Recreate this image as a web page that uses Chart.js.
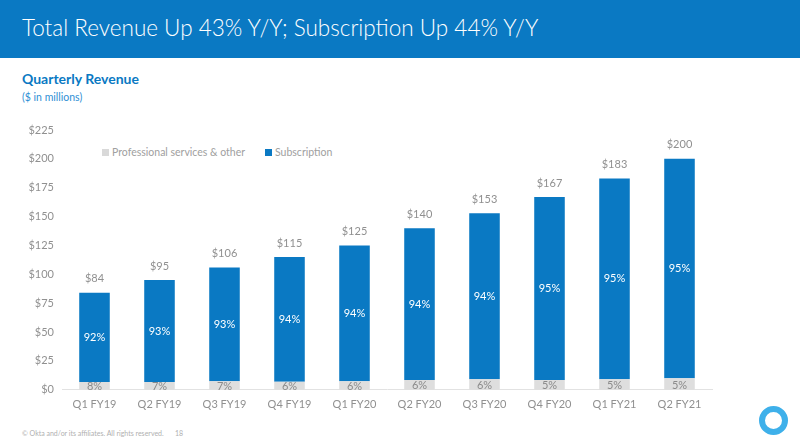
<!DOCTYPE html>
<html lang="en">
<head>
<meta charset="UTF-8">
<title>Quarterly Revenue</title>
<script src="https://cdn.jsdelivr.net/npm/chart.js"></script>
<style>
  body { margin: 0; width: 800px; height: 446px; overflow: hidden; background: #fff; font-family: Lato, "Open Sans", sans-serif; position: relative; }
  .header { position: absolute; left: 0; top: 0; width: 800px; height: 58px; background: #0a79c3; }
  .header h1 { margin: 0; position: absolute; left: 22px; top: 14px; color: #fff; font-weight: 300; font-size: 22.5px; letter-spacing: 0; }
  .sub1 { position: absolute; left: 22px; top: 70px; color: #0a79c3; font-weight: 700; font-size: 14px; }
  .sub2 { position: absolute; left: 22px; top: 91px; color: #2f8fd4; font-size: 10.5px; }
  .legend { position: absolute; top: 146px; font-size: 10.5px; color: #a0a0a0; }
  .legend i { display: inline-block; width: 7px; height: 7px; margin-right: 3px; vertical-align: 0px; }
  .chart { position: absolute; left: 0; top: 112px; width: 800px; height: 307px; }
  .footer { position: absolute; left: 22px; top: 429px; font-size: 7px; color: #b0b0b0; }
  .page { position: absolute; left: 175px; top: 429px; font-size: 7px; color: #b0b0b0; }
  .logo { position: absolute; left: 759px; top: 406px; width: 17px; height: 17px; border: 6px solid #3eb0ea; border-radius: 50%; }
</style>
</head>
<body>
<div class="header"><h1>Total Revenue Up 43% Y/Y; Subscription Up 44% Y/Y</h1></div>
<div class="sub1">Quarterly Revenue</div>
<div class="sub2">($ in millions)</div>
<div class="legend" style="left:102px"><i style="background:#d9d9d9"></i>Professional services &amp; other</div>
<div class="legend" style="left:265px"><i style="background:#0a79c3"></i>Subscription</div>
<div class="chart"><canvas id="graficoReceita"></canvas></div>
<div class="footer">© Okta and/or its affiliates. All rights reserved.</div>
<div class="page">18</div>
<div class="logo"></div>
<script>
const quarters = ['Q1 FY19', 'Q2 FY19', 'Q3 FY19', 'Q4 FY19', 'Q1 FY20', 'Q2 FY20', 'Q3 FY20', 'Q4 FY20', 'Q1 FY21', 'Q2 FY21']
const totals = [84, 95, 106, 115, 125, 140, 153, 167, 183, 200]
const services = [6.7, 6.7, 7.4, 6.9, 7.5, 8.4, 9.2, 8.4, 9.2, 10.0]
const subscription = [77.3, 88.3, 98.6, 108.1, 117.5, 131.6, 143.8, 158.6, 173.8, 190.0]
const servicesPct = ['8%', '7%', '7%', '6%', '6%', '6%', '6%', '5%', '5%', '5%']
const subscriptionPct = ['92%', '93%', '93%', '94%', '94%', '94%', '94%', '95%', '95%', '95%']
const yTicks = [0, 25, 50, 75, 100, 125, 150, 175, 200, 225]

// escreve os rotulos em cima e dentro das barras
const rotulos = {
    id: 'rotulos',
    afterDatasetsDraw(chart) {
        const ctx = chart.ctx
        const metaServ = chart.getDatasetMeta(0)
        const metaSub = chart.getDatasetMeta(1)
        ctx.save()
        ctx.textAlign = 'center'
        ctx.textBaseline = 'middle'
        ctx.font = '11px Lato, "Open Sans", sans-serif'
        for (let i = 0; i < quarters.length; i++) {
            const barServ = metaServ.data[i]
            const barSub = metaSub.data[i]
            ctx.fillStyle = '#8a8a8a'
            ctx.fillText(servicesPct[i], barServ.x, (barServ.y + barServ.base) / 2 + 1)
            ctx.fillStyle = '#ffffff'
            ctx.fillText(subscriptionPct[i], barSub.x, (barSub.y + barSub.base) / 2)
            ctx.fillStyle = '#909090'
            ctx.fillText('$' + totals[i], barSub.x, barSub.y - 14)
        }
        ctx.restore()
    }
}

const grafico = document.getElementById('graficoReceita')
new Chart(grafico, {
    type: 'bar',
    data: {
        labels: quarters,
        datasets: [{
            label: 'Professional services & other',
            data: services,
            backgroundColor: '#dedede',
            barPercentage: 0.47,
            categoryPercentage: 1
        }, {
            label: 'Subscription',
            data: subscription,
            backgroundColor: '#0a79c3',
            barPercentage: 0.47,
            categoryPercentage: 1
        }]
    },
    options: {
        responsive: true,
        maintainAspectRatio: false,
        animation: false,
        layout: { padding: { left: 0, right: 88, top: 18, bottom: 0 } },
        plugins: {
            legend: { display: false },
            tooltip: { enabled: false }
        },
        scales: {
            x: {
                stacked: true,
                grid: { display: false, drawTicks: false },
                border: { color: '#e2e2e2' },
                ticks: { color: '#909090', font: { size: 11, family: 'Lato' }, padding: 8 }
            },
            y: {
                stacked: true,
                min: 0,
                max: 225,
                afterBuildTicks(axis) { axis.ticks = yTicks.map(v => ({ value: v })) },
                afterFit(axis) { axis.width = 62 },
                grid: { display: false, drawTicks: false },
                border: { display: false },
                ticks: {
                    color: '#909090',
                    font: { size: 11, family: 'Lato' },
                    padding: 8,
                    callback: v => '$' + v
                }
            }
        }
    },
    plugins: [rotulos]
})
</script>
</body>
</html>
